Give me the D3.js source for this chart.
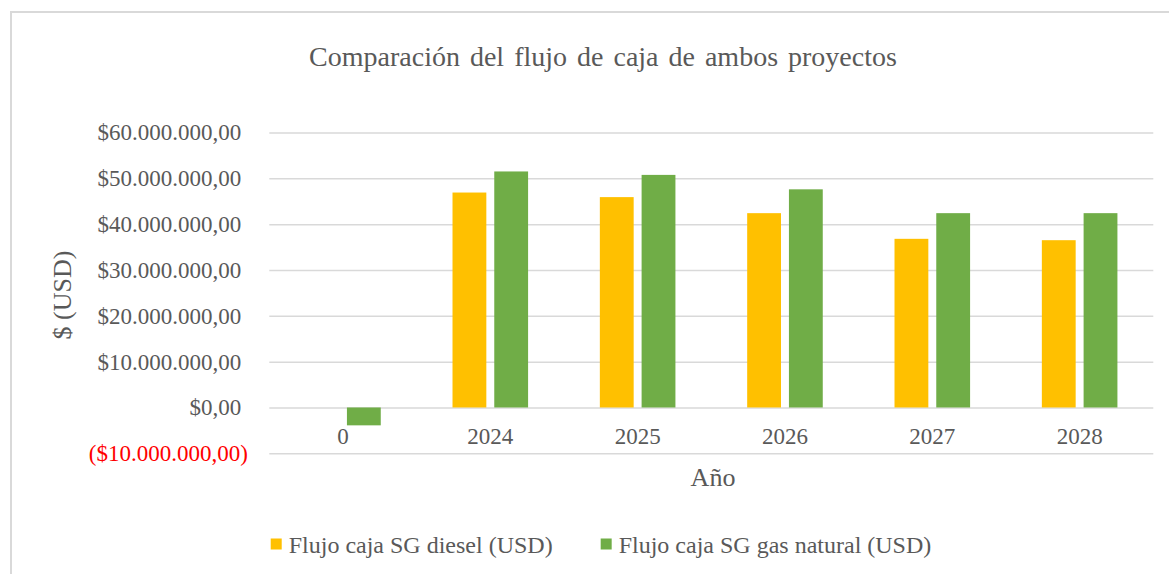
<!DOCTYPE html>
<html>
<head>
<meta charset="utf-8">
<script src="https://d3js.org/d3.v7.min.js"></script>
<style>
  body { margin: 0; background: #fff; }
  svg { display: block; }
</style>
</head>
<body>
<div id="chart"></div>
<script>
// chart data
var categories = ['0', '2024', '2025', '2026', '2027', '2028'];
var series_names = ['Flujo caja SG diesel (USD)', 'Flujo caja SG gas natural (USD)'];
var diesel_values = [0, 46900000, 45900000, 42400000, 36800000, 36500000];
var gas_values = [-3900000, 51500000, 50750000, 47600000, 42400000, 42400000];
var y_ticks = [-10000000, 0, 10000000, 20000000, 30000000, 40000000, 50000000, 60000000];

var colors = ['#FFC000', '#70AD47'];
var text_color = '#595959';
var grid_color = '#d9d9d9';
var font = 'Liberation Serif';

var width = 1169;
var height = 574;
var plot = { left: 269.3, right: 1153.3, top: 132.5, bottom: 453.3 };

var locale = d3.formatLocale({ decimal: ',', thousands: '.', grouping: [3], currency: ['$', ''] });
var fmt = locale.format('$,.2f');
function money(v) {
  return v < 0 ? '(' + fmt(-v) + ')' : fmt(v);
}

var svg = d3.select('#chart')
  .append('svg')
  .attr('width', width)
  .attr('height', height)
  .attr('font-family', font);

// chart area border (runs off the right and bottom of the picture)
svg.append('rect')
  .attr('x', 11)
  .attr('y', 12)
  .attr('width', width + 20)
  .attr('height', height + 20)
  .attr('fill', 'none')
  .attr('stroke', grid_color)
  .attr('stroke-width', 2);

var y = d3.scaleLinear()
  .domain([-10000000, 60000000])
  .range([plot.bottom, plot.top]);

var x0 = d3.scaleBand()
  .domain(categories)
  .range([plot.left, plot.right])
  .paddingInner(0.487)
  .paddingOuter(0.2435);

var x1 = d3.scaleBand()
  .domain([0, 1])
  .range([0, x0.bandwidth()])
  .paddingInner(0.19);

// y axis with gridlines
var yAxis = svg.append('g')
  .attr('transform', 'translate(' + plot.left + ',0)')
  .call(d3.axisLeft(y)
    .tickValues(y_ticks)
    .tickSize(-(plot.right - plot.left))
    .tickPadding(28)
    .tickFormat(money));

yAxis.attr('font-family', font);
yAxis.select('.domain').remove();
yAxis.selectAll('.tick line')
  .attr('stroke', grid_color)
  .attr('stroke-width', 1.5);
yAxis.selectAll('.tick text')
  .attr('font-size', 23)
  .attr('fill', d => d < 0 ? '#FF0000' : text_color)
  .attr('x', d => d < 0 ? -21.4 : -28);

// bars
var rows = categories.map((c, i) => ({ cat: c, vals: [diesel_values[i], gas_values[i]] }));

svg.append('g')
  .selectAll('g')
  .data(rows)
  .enter().append('g')
    .attr('transform', d => 'translate(' + x0(d.cat) + ',0)')
  .selectAll('rect')
  .data(d => d.vals.map((v, k) => ({ k: k, v: v })))
  .enter().append('rect')
    .attr('x', d => x1(d.k))
    .attr('width', x1.bandwidth())
    .attr('y', d => y(Math.max(0, d.v)))
    .attr('height', d => Math.abs(y(d.v) - y(0)))
    .attr('fill', d => colors[d.k]);

// category labels
var xAxis = svg.append('g')
  .attr('transform', 'translate(0,' + y(0) + ')')
  .call(d3.axisBottom(x0).tickSize(0).tickPadding(20.7));
xAxis.attr('font-family', font);
xAxis.select('.domain').remove();
xAxis.selectAll('.tick text')
  .attr('font-size', 23)
  .attr('fill', text_color);

// title
svg.append('text')
  .attr('x', 603)
  .attr('y', 65.5)
  .attr('text-anchor', 'middle')
  .attr('font-size', 28)
  .attr('word-spacing', 3)
  .attr('fill', text_color)
  .text('Comparación del flujo de caja de ambos proyectos');

// axis titles
svg.append('text')
  .attr('x', 713)
  .attr('y', 486)
  .attr('text-anchor', 'middle')
  .attr('font-size', 26)
  .attr('fill', text_color)
  .text('Año');

svg.append('text')
  .attr('transform', 'translate(71,295) rotate(-90)')
  .attr('text-anchor', 'middle')
  .attr('font-size', 26)
  .attr('fill', text_color)
  .text('$ (USD)');

// legend, centred under the plot
var legend = svg.append('g');
var items = legend.selectAll('g')
  .data(series_names)
  .enter().append('g');
items.append('rect')
  .attr('width', 11)
  .attr('height', 11)
  .attr('y', -14.5)
  .attr('fill', (d, i) => colors[i]);
items.append('text')
  .attr('x', 18)
  .attr('font-size', 24)
  .attr('fill', text_color)
  .text(d => d);

var offset = 0;
var gap = 48;
items.each(function() {
  var w = this.getBBox().width;
  d3.select(this).attr('transform', 'translate(' + offset + ',0)');
  offset += w + gap;
});
var legend_width = offset - gap;
legend.attr('transform', 'translate(' + (601 - legend_width / 2) + ',553)');
</script>
</body>
</html>
